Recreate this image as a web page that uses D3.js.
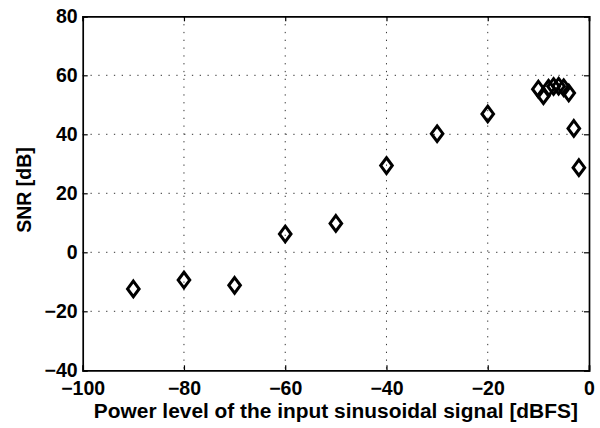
<!DOCTYPE html>
<html>
<head>
<meta charset="utf-8">
<script src="https://cdn.jsdelivr.net/npm/d3@7"></script>
<style>
  html, body { margin: 0; padding: 0; background: #fff; }
  svg { display: block; }
  text { font-family: "Liberation Sans", Arial, Helvetica, sans-serif; font-weight: bold; fill: #000; }
</style>
</head>
<body>
<svg id="chart" width="600" height="428"></svg>
<script>
// ---- data ----
const powerLevels = [-90, -80, -70, -60, -50, -40, -30, -20, -10, -9, -8, -7, -6, -5, -4, -3, -2];
const snrValues   = [-12.4, -9.4, -11.2, 6.2, 9.8, 29.4, 40.2, 46.9, 55.3, 53.1, 55.6, 56.2, 56.3, 55.8, 54.0, 42.0, 28.7];
const xTicks = [-100, -80, -60, -40, -20, 0];
const yTicks = [-40, -20, 0, 20, 40, 60, 80];
const xLabel = "Power level of the input sinusoidal signal [dBFS]";
const yLabel = "SNR [dB]";

// ---- layout ----
const margin = { left: 82.7, right: 11, top: 16.3, bottom: 57.7 };
const W = 600, H = 428;
const svg = d3.select("#chart");

const x = d3.scaleLinear().domain([-100, 0]).range([margin.left, W - margin.right]);
const y = d3.scaleLinear().domain([-40, 80]).range([H - margin.bottom, margin.top]);

const fmt = d3.format("d");
const fontSize = 19.5;

// grid
const grid = svg.append("g").attr("class", "grid");
grid.selectAll("line.gx").data(xTicks.slice(1, -1)).join("line")
  .attr("x1", d => x(d)).attr("x2", d => x(d))
  .attr("y1", y(80)).attr("y2", y(-40))
  .attr("stroke", "#333").attr("stroke-width", 1).attr("stroke-dasharray", "1.3,6.5");
grid.selectAll("line.gy").data(yTicks.slice(1, -1)).join("line")
  .attr("x1", x(-100)).attr("x2", x(0))
  .attr("y1", d => y(d)).attr("y2", d => y(d))
  .attr("stroke", "#333").attr("stroke-width", 1).attr("stroke-dasharray", "1.3,6.5");

// axes (inward ticks, box)
const tickLen = 5;
const axB = svg.append("g").attr("transform", `translate(0,${y(-40)})`)
  .call(d3.axisBottom(x).tickValues(xTicks).tickSize(-tickLen).tickPadding(11).tickFormat(fmt));
const axT = svg.append("g").attr("transform", `translate(0,${y(80)})`)
  .call(d3.axisTop(x).tickValues(xTicks).tickSize(-tickLen).tickFormat(""));
const axL = svg.append("g").attr("transform", `translate(${x(-100)},0)`)
  .call(d3.axisLeft(y).tickValues(yTicks).tickSize(-tickLen).tickPadding(5).tickFormat(fmt));
const axR = svg.append("g").attr("transform", `translate(${x(0)},0)`)
  .call(d3.axisRight(y).tickValues(yTicks).tickSize(-tickLen).tickFormat(""));

[axB, axT, axL, axR].forEach(g => {
  g.select(".domain").attr("stroke", "#000").attr("stroke-width", 1.7);
  g.selectAll(".tick line").attr("stroke", "#000").attr("stroke-width", 1.2);
  g.selectAll("text").attr("font-size", fontSize).attr("font-family", "Liberation Sans, Arial, sans-serif").attr("font-weight", "bold").attr("fill", "#000");
});

// axis titles
svg.append("text")
  .attr("x", (x(-100) + x(0)) / 2).attr("y", 418)
  .attr("text-anchor", "middle").attr("font-size", fontSize)
  .attr("textLength", 484).attr("lengthAdjust", "spacingAndGlyphs")
  .text(xLabel);
svg.append("text")
  .attr("transform", `translate(31,190) rotate(-90)`)
  .attr("text-anchor", "middle").attr("font-size", fontSize)
  .text(yLabel);

// diamond markers
const hw = 5.8, hh = 7.8;
const diamond = `M0,${-hh}L${hw},0L0,${hh}L${-hw},0Z`;
svg.append("g").selectAll("path").data(powerLevels.map((p, i) => [p, snrValues[i]])).join("path")
  .attr("transform", d => `translate(${x(d[0])},${y(d[1])})`)
  .attr("d", diamond)
  .attr("fill", "none").attr("stroke", "#000").attr("stroke-width", 3)
  .attr("stroke-linejoin", "miter");
</script>
</body>
</html>
